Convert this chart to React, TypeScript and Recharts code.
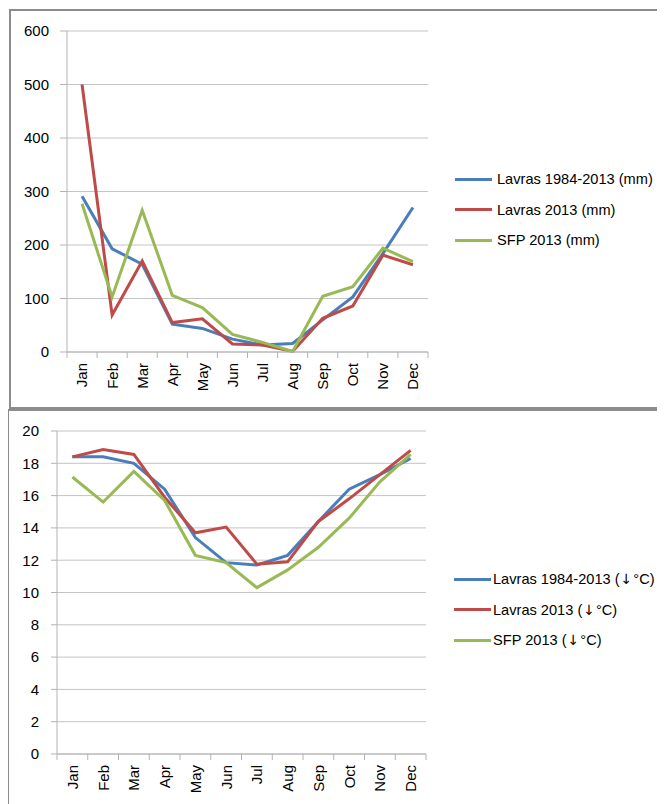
import React from 'react';
import { LineChart, Line, XAxis, YAxis, CartesianGrid, Legend } from 'recharts';

const months = ['Jan', 'Feb', 'Mar', 'Apr', 'May', 'Jun', 'Jul', 'Aug', 'Sep', 'Oct', 'Nov', 'Dec'];

const rainLavrasNormal = [291, 193, 164, 52, 44, 24, 13, 16, 60, 103, 184, 270];
const rainLavras2013 = [500, 69, 170, 55, 62, 15, 13, 1, 63, 86, 181, 163];
const rainSFP2013 = [277, 103, 265, 106, 83, 33, 18, 1, 104, 122, 194, 169];

const tempLavrasNormal = [18.4, 18.4, 18.0, 16.4, 13.4, 11.85, 11.7, 12.3, 14.4, 16.4, 17.3, 18.3];
const tempLavras2013 = [18.4, 18.85, 18.55, 15.9, 13.7, 14.05, 11.75, 11.9, 14.4, 15.8, 17.3, 18.8];
const tempSFP2013 = [17.15, 15.6, 17.5, 15.7, 12.3, 11.85, 10.3, 11.4, 12.8, 14.6, 16.85, 18.55];

const rainTicks = [0, 100, 200, 300, 400, 500, 600];
const tempTicks = [0, 2, 4, 6, 8, 10, 12, 14, 16, 18, 20];

const rainNames = ['Lavras 1984-2013 (mm)', 'Lavras 2013 (mm)', 'SFP 2013 (mm)'];
const tempNames = ['Lavras 1984-2013 (\u2193°C)', 'Lavras 2013 (\u2193°C)', 'SFP 2013 (\u2193°C)'];
const seriesKeys = ['a', 'b', 'c'];
const colors = ['#4a7ebb', '#be4b48', '#98b954'];

const rainData = months.map((m, i) => ({ month: m, a: rainLavrasNormal[i], b: rainLavras2013[i], c: rainSFP2013[i] }));
const tempData = months.map((m, i) => ({ month: m, a: tempLavrasNormal[i], b: tempLavras2013[i], c: tempSFP2013[i] }));

const FONT = '"Liberation Sans", Arial, sans-serif';
const axisColor = '#b3b3b3';
const gridColor = '#c4c4c4';
const frameColor = '#8c8c8c';

const makeTick = (bw: number) => (props: any) => {
  const { x, y, payload, index } = props;
  const ay = y - 11;
  return (
    <g>
      {index === 0 && (
        <line x1={x - bw / 2} x2={x - bw / 2} y1={ay} y2={ay + 6} stroke={axisColor} strokeWidth={1} />
      )}
      <line x1={x + bw / 2} x2={x + bw / 2} y1={ay} y2={ay + 6} stroke={axisColor} strokeWidth={1} />
      <text
        x={x}
        y={y}
        transform={`rotate(-90, ${x}, ${y})`}
        textAnchor="end"
        dy="0.36em"
        fontSize={15}
        fontFamily={FONT}
        fill="#000"
      >
        {payload.value}
      </text>
    </g>
  );
};

const renderLabel = (s: string) => {
  const parts = String(s).split('\u2193');
  if (parts.length === 1) return s;
  return (
    <>
      {parts[0]}
      <span style={{ fontFamily: '"DejaVu Sans", sans-serif', fontSize: 14, margin: '0 1px' }}>{'\u2193'}</span>
      {parts[1]}
    </>
  );
};

const makeLegend = (gap: number) => (props: any) => {
  const { payload } = props;
  return (
    <div style={{ fontFamily: FONT }}>
      {payload.map((p: any) => (
        <div key={p.value} style={{ display: 'flex', alignItems: 'center', height: 30.5 }}>
          <div style={{ width: 37, height: 3, background: p.color, marginRight: gap }} />
          <span style={{ fontSize: 14.6, color: '#000', whiteSpace: 'nowrap' }}>{renderLabel(p.value)}</span>
        </div>
      ))}
    </div>
  );
};

const TopTick = makeTick(361 / 12);
const BottomTick = makeTick(369 / 12);

export default function App() {
  return (
    <div style={{ position: 'relative', width: 657, height: 796, overflow: 'hidden', background: '#fff' }}>
      <div
        style={{
          position: 'absolute',
          left: 1,
          top: 1,
          width: 700,
          height: 400,
          border: `2px solid ${frameColor}`,
          boxSizing: 'border-box',
        }}
      />
      <div
        style={{
          position: 'absolute',
          left: -1,
          top: 401,
          width: 700,
          height: 420,
          border: `2px solid ${frameColor}`,
          boxSizing: 'border-box',
        }}
      />
      <div style={{ position: 'absolute', left: 0, top: 0 }}>
        <LineChart width={657} height={400} data={rainData} margin={{ top: 23, right: 237, bottom: 0, left: 0 }}>
          <CartesianGrid horizontal vertical={false} stroke={gridColor} />
          <XAxis
            dataKey="month"
            scale="band"
            interval={0}
            height={56}
            tickSize={6}
            tickMargin={5}
            tickLine={false}
            axisLine={{ stroke: axisColor }}
            tick={<TopTick />}
          />
          <YAxis
            domain={[0, 600]}
            ticks={rainTicks}
            width={59}
            tickSize={7}
            tickMargin={11}
            interval={0}
            axisLine={{ stroke: axisColor }}
            tickLine={{ stroke: axisColor }}
            tick={{ fill: '#000', fontSize: 15, fontFamily: FONT }}
          />
          <Legend
            layout="vertical"
            align="center"
            verticalAlign="middle"
            wrapperStyle={{ left: 447, top: 156, width: 'auto' }}
            content={makeLegend(5)}
          />
          {seriesKeys.map((k, i) => (
            <Line
              key={k}
              type="linear"
              dataKey={k}
              name={rainNames[i]}
              stroke={colors[i]}
              strokeWidth={3}
              dot={false}
              activeDot={false}
              isAnimationActive={false}
            />
          ))}
        </LineChart>
      </div>
      <div style={{ position: 'absolute', left: 0, top: 401 }}>
        <LineChart width={657} height={395} data={tempData} margin={{ top: 22, right: 239, bottom: 0, left: 0 }}>
          <CartesianGrid horizontal vertical={false} stroke={gridColor} />
          <XAxis
            dataKey="month"
            scale="band"
            interval={0}
            height={50}
            tickSize={6}
            tickMargin={5}
            tickLine={false}
            axisLine={{ stroke: axisColor }}
            tick={<BottomTick />}
          />
          <YAxis
            domain={[0, 20]}
            ticks={tempTicks}
            width={49}
            tickSize={6}
            tickMargin={12}
            interval={0}
            axisLine={{ stroke: axisColor }}
            tickLine={{ stroke: axisColor }}
            tick={{ fill: '#000', fontSize: 15, fontFamily: FONT }}
          />
          <Legend
            layout="vertical"
            align="center"
            verticalAlign="middle"
            wrapperStyle={{ left: 446, top: 155, width: 'auto' }}
            content={makeLegend(2)}
          />
          {seriesKeys.map((k, i) => (
            <Line
              key={k}
              type="linear"
              dataKey={k}
              name={tempNames[i]}
              stroke={colors[i]}
              strokeWidth={3}
              dot={false}
              activeDot={false}
              isAnimationActive={false}
            />
          ))}
        </LineChart>
      </div>
    </div>
  );
}
